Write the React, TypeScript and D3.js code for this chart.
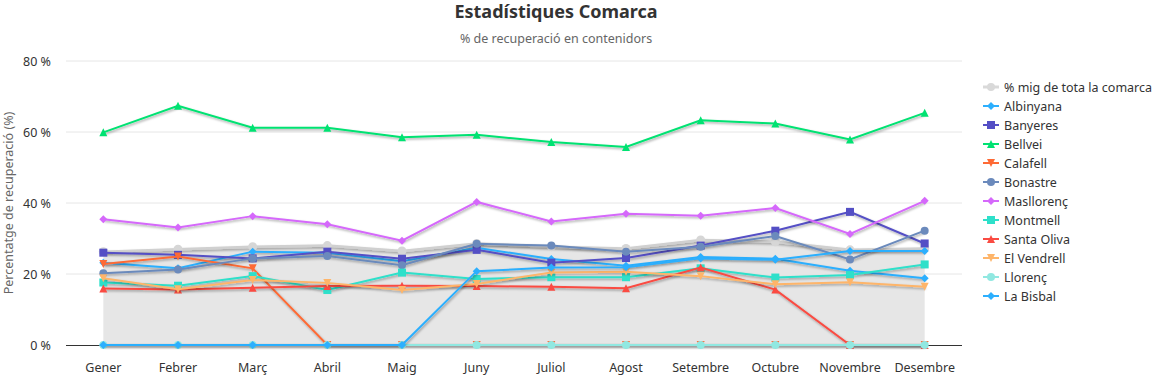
import React from "react";
import * as d3 from "d3";

const months = ["Gener", "Febrer", "Març", "Abril", "Maig", "Juny", "Juliol", "Agost", "Setembre", "Octubre", "Novembre", "Desembre"];
const yTicks = [0, 20, 40, 60, 80];

const average = [26.3, 27.0, 27.7, 28.0, 26.5, 28.6, 27.7, 27.2, 29.6, 29.1, 26.8, 27.2];
const albinyana = [23.2, 21.6, 26.3, 26.0, 23.6, 27.4, 24.2, 22.3, 24.8, 24.3, 20.9, 18.8];
const banyeres = [26.0, 25.4, 24.4, 26.3, 24.3, 26.8, 23.2, 24.5, 28.0, 32.2, 37.5, 28.6];
const bellvei = [59.9, 67.4, 61.2, 61.2, 58.5, 59.2, 57.2, 55.8, 63.3, 62.4, 57.9, 65.4];
const calafell = [22.8, 24.9, 21.6, 0, 0, 0, 0, 0, 0, 0, 0, 0];
const bonastre = [20.2, 21.3, 24.4, 25.1, 22.5, 28.5, 28.0, 26.3, 27.7, 30.7, 24.1, 32.2];
const masllorenc = [35.4, 33.1, 36.3, 34.0, 29.4, 40.3, 34.8, 37.0, 36.4, 38.6, 31.3, 40.6];
const montmell = [17.6, 16.7, 19.4, 15.5, 20.4, 18.6, 19.1, 19.1, 21.6, 19.0, 19.7, 22.7];
const santaOliva = [15.9, 15.6, 16.1, 16.6, 16.7, 16.6, 16.4, 16.0, 21.8, 15.6, 0, 0];
const elVendrell = [18.8, 15.7, 18.3, 17.5, 15.5, 17.2, 20.4, 20.6, 19.4, 17.1, 17.7, 16.4];
const llorenc = [0, 0, 0, 0, 0, 0, 0, 0, 0, 0, 0, 0];
const laBisbal = [0, 0, 0, 0, 0, 20.8, 21.8, 21.9, 24.4, 24.0, 26.5, 26.5];

type Sym = "circle" | "diamond" | "square" | "triangle" | "triangle-down";
interface Series { name: string; data: number[]; color: string; symbol: Sym; }

const series: Series[] = [
  { name: "Albinyana", data: albinyana, color: "#2caffe", symbol: "diamond" },
  { name: "Banyeres", data: banyeres, color: "#544fc5", symbol: "square" },
  { name: "Bellvei", data: bellvei, color: "#00e272", symbol: "triangle" },
  { name: "Calafell", data: calafell, color: "#fe6a35", symbol: "triangle-down" },
  { name: "Bonastre", data: bonastre, color: "#6b8abc", symbol: "circle" },
  { name: "Masllorenç", data: masllorenc, color: "#d568fb", symbol: "diamond" },
  { name: "Montmell", data: montmell, color: "#2ee0ca", symbol: "square" },
  { name: "Santa Oliva", data: santaOliva, color: "#fa4b42", symbol: "triangle" },
  { name: "El Vendrell", data: elVendrell, color: "#feb56a", symbol: "triangle-down" },
  { name: "Llorenç", data: llorenc, color: "#91e8e1", symbol: "circle" },
  { name: "La Bisbal", data: laBisbal, color: "#2caffe", symbol: "diamond" },
];

const FONT = "'Noto Sans', 'Open Sans', sans-serif";

function marker(sym: Sym, x: number, y: number, color: string, key?: string) {
  const r = 4;
  switch (sym) {
    case "circle":
      return <circle key={key} cx={x} cy={y} r={r} fill={color} />;
    case "square":
      return <rect key={key} x={x - r} y={y - r} width={2 * r} height={2 * r} fill={color} />;
    case "diamond":
      return <path key={key} d={`M${x},${y - r}L${x + r},${y}L${x},${y + r}L${x - r},${y}Z`} fill={color} />;
    case "triangle":
      return <path key={key} d={`M${x},${y - r}L${x + r},${y + r}L${x - r},${y + r}Z`} fill={color} />;
    case "triangle-down":
      return <path key={key} d={`M${x - r},${y - r}L${x + r},${y - r}L${x},${y + r}Z`} fill={color} />;
  }
}

export default function App() {
  const W = 1156, H = 375;
  const left = 66, right = 962, top = 61, bottom = 345;
  const x = d3.scaleBand<string>().domain(months).range([left, right]);
  const cx = (m: string) => (x(m) as number) + x.bandwidth() / 2;
  const y = d3.scaleLinear().domain([0, 80]).range([bottom, top]);

  const line = d3.line<number>().x((_, i) => cx(months[i])).y((d) => y(d));
  const area = d3.area<number>().x((_, i) => cx(months[i])).y0(y(0)).y1((d) => y(d));

  const legendItems = [{ name: "% mig de tota la comarca", color: "#d9d9d9", symbol: "circle" as Sym }, ...series];

  return (
    <svg width={W} height={H} style={{ position: "absolute", left: 0, top: 0, fontFamily: FONT }}>
      <defs>
        <filter id="sh" filterUnits="userSpaceOnUse" x="0" y="0" width={W} height={H}>
          <feDropShadow dx="1" dy="1.5" stdDeviation="1.3" floodColor="#000" floodOpacity="0.35" />
        </filter>
      </defs>
      <rect width={W} height={H} fill="#fff" />
      <text x={556} y={18} textAnchor="middle" fontSize={18} fontWeight={700} fill="#333">Estadístiques Comarca</text>
      <text x={556} y={43} textAnchor="middle" fontSize={12.5} fill="#666">% de recuperació en contenidors</text>

      {yTicks.filter((t) => t > 0).map((t) => (
        <line key={t} x1={left} x2={right} y1={y(t)} y2={y(t)} stroke="#e6e6e6" strokeWidth={1} />
      ))}
      {yTicks.map((t) => (
        <text key={"l" + t} x={51} y={y(t) + 4.5} textAnchor="end" fontSize={12.5} fill="#333">{`${t} %`}</text>
      ))}
      <text transform={`translate(13,${(top + bottom) / 2}) rotate(-90)`} textAnchor="middle" fontSize={12.5} fill="#666">Percentatge de recuperació (%)</text>

      {months.map((m) => (
        <text key={m} x={cx(m)} y={372} textAnchor="middle" fontSize={12.5} fill="#333">{m}</text>
      ))}

      <path d={area(average) || ""} fill="#e6e6e6" />
      <path d={line(average) || ""} fill="none" stroke="#d0d0d0" strokeWidth={2.5} filter="url(#sh)" />
      {average.map((v, i) => <circle key={"a" + i} cx={cx(months[i])} cy={y(v)} r={4.5} fill="#d6d6d6" />)}

      <line x1={left} x2={right} y1={bottom + 0.5} y2={bottom + 0.5} stroke="#333" strokeWidth={1} />

      {series.map((s) => (
        <g key={s.name}>
          <path d={line(s.data) || ""} fill="none" stroke={s.color} strokeWidth={2} filter="url(#sh)" />
          {s.data.map((v, i) => marker(s.symbol, cx(months[i]), y(v), s.color, s.name + i))}
        </g>
      ))}

      {legendItems.map((s, i) => {
        const ly = 87 + i * 19;
        return (
          <g key={"lg" + s.name}>
            <line x1={983} x2={999} y1={ly} y2={ly} stroke={s.color} strokeWidth={i === 0 ? 3 : 2} />
            {marker(s.symbol, 991, ly, s.color)}
            <text x={1004} y={ly + 4.5} fontSize={12.5} fill="#333">{s.name}</text>
          </g>
        );
      })}
    </svg>
  );
}
